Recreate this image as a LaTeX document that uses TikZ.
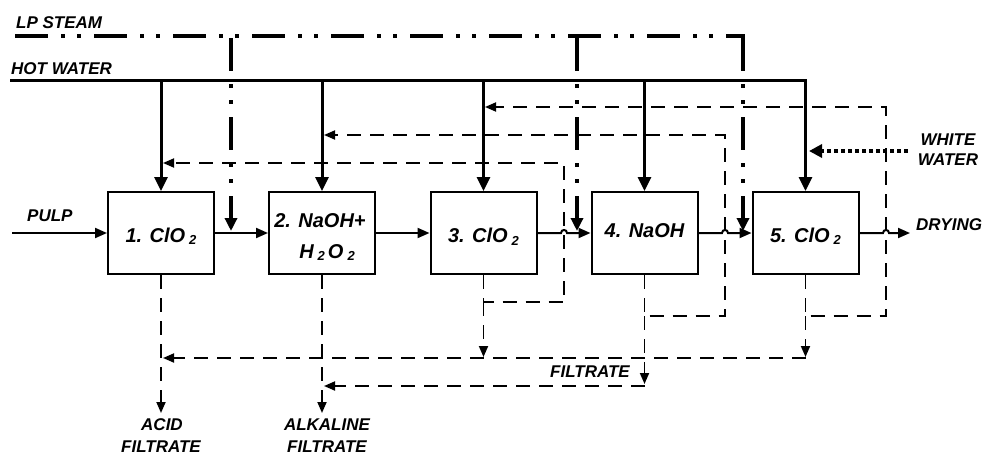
\documentclass[tikz,border=0pt]{standalone}
\usepackage{fontspec}
\setmainfont{Liberation Sans}
\usetikzlibrary{arrows.meta}
\newcommand{\mysub}[1]{\hspace{4pt}\raisebox{-2.5pt}{\fontsize{13}{13}\selectfont #1}}
\begin{document}
\begin{tikzpicture}[x=1pt,y=-1pt,
  lbl/.style={inner sep=0pt, font=\fontsize{17}{20}\selectfont\bfseries\itshape},
  boxtxt/.style={inner sep=0pt, font=\fontsize{20}{24}\selectfont\bfseries\itshape},
  box/.style={draw, line width=2pt, minimum width=106pt, minimum height=82pt, inner sep=0pt, font=\fontsize{20}{24}\selectfont\bfseries\itshape},
  stream/.style={line width=2pt, -{Triangle[length=12pt,width=10pt]}},
  hot/.style={line width=3pt},
  hotarr/.style={hot, -{Triangle[length=14pt,width=13pt]}},
  steam/.style={line width=4pt, dash pattern=on 33pt off 13pt on 4pt off 12pt on 4pt off 13pt},
  steamarr/.style={steam, -{Triangle[length=13pt,width=12pt]}},
  filt/.style={line width=1.8pt, dash pattern=on 14pt off 9pt},
  filtarr/.style={filt, -{Triangle[length=11pt,width=9pt]}},
  wwater/.style={line width=4pt, dash pattern=on 4pt off 3pt, -{Triangle[length=13pt,width=13pt]}}
]
\useasboundingbox (0,0) rectangle (982,455);

% process boxes
\node[box, text height=18pt, text depth=0pt] (b1) at (161,233) {1. ClO\mysub{2}};
\node[box] (b2) at (322,233) {};
\node[boxtxt, anchor=base] (b2a) at (320,227) {2. NaOH+};
\node[boxtxt, anchor=base] (b2b) at (327,258) {H\mysub{2}\hspace{3pt}O\mysub{2}};
\node[box, text height=19pt, text depth=0pt] (b3) at (483.5,233) {3. ClO\mysub{2}};
\node[box, text height=8pt, text depth=0pt] (b4) at (644.5,233) {4. NaOH};
\node[box, text height=18pt, text depth=0pt] (b5) at (805.5,233) {5. ClO\mysub{2}};

% labels
\node[lbl, anchor=base west] (lp) at (16,28) {LP STEAM};
\node[lbl, anchor=base west] (hw) at (11,74) {HOT WATER};
\node[lbl, anchor=base west] (pulp) at (27,221) {PULP};
\node[lbl, anchor=base west] (drying) at (916,230) {DRYING};
\node[lbl, anchor=base] (ww1) at (948,145) {WHITE};
\node[lbl, anchor=base] (ww2) at (948,165) {WATER};
\node[lbl, anchor=base east] (filt) at (630,377) {FILTRATE};
\node[lbl, anchor=base] (acid1) at (162,430) {ACID};
\node[lbl, anchor=base] (acid2) at (161,452) {FILTRATE};
\node[lbl, anchor=base] (alk1) at (327,430) {ALKALINE};
\node[lbl, anchor=base] (alk2) at (327,452) {FILTRATE};

% coordinates
\coordinate (hwL) at (10,80);
\coordinate (stL) at (15,36);
\coordinate (stR) at (745,36);
\coordinate (stTop) at (0,38);
\coordinate (s1) at (231,231);
\coordinate (s2) at (577,231);
\coordinate (s3) at (743,231);
\coordinate (pulpL) at (12,233);
\coordinate (dry) at (910,233);
\coordinate (wwR) at (908,151);
\coordinate (wwT) at (809,151);

% hot water
\draw[hotarr] (hwL) -| (b5.north);
\foreach \b in {b1,b2,b3,b4} \draw[hotarr] (\b.north |- hwL) -- (\b.north);

% LP steam
\draw[steam] (stL) -- (stR);
\foreach \s in {s1,s2,s3} \draw[steamarr] (\s |- stTop) -- (\s);

% pulp stream
\draw[stream] (pulpL) -- (b1.west);
\draw[stream] (b1.east) -- (b2.west);
\draw[stream] (b2.east) -- (b3.west);
\draw[stream] (b3.east) -- (561,233) .. controls (561,229) and (567,229) .. (567,233) -- (b4.west);
\draw[stream] (b4.east) -- (722,233) .. controls (722,229) and (728,229) .. (728,233) -- (b5.west);
\draw[stream] (b5.east) -- (883,233) .. controls (883,229) and (889,229) .. (889,233) -- (dry);

% white water
\draw[wwater] (wwR) -- (wwT);

% filtrate recycles
\coordinate (f5) at (805.5,316);
\coordinate (f4) at (644.5,316);
\coordinate (f3) at (483.5,302);
\draw[filtarr] (b5.south) -- (f5) -- (886,316) -- (886,107) -- (485,107);
\draw[filtarr] (b4.south) -- (f4) -- (725,316) -- (725,135) -- (324,135);
\draw[filtarr] (b3.south) -- (f3) -- (564,302) -- (564,163) -- (163,163);

\coordinate (l1R) at (805.5,358);
\coordinate (l1L) at (163,358);
\coordinate (l2R) at (644.5,386);
\coordinate (l2L) at (324,386);
\coordinate (acid) at (161,413);
\coordinate (alk) at (322,413);
\draw[filtarr] (f3) -- (483.5,357);
\draw[filtarr] (f5) -- (805.5,357);
\draw[filtarr] (l1R) -- (l1L);
\draw[filtarr] (f4) -- (644.5,384);
\draw[filtarr] (l2R) -- (l2L);
\draw[filtarr] (b1.south) -- (acid);
\draw[filtarr] (b2.south) -- (alk);
\end{tikzpicture}
\end{document}
